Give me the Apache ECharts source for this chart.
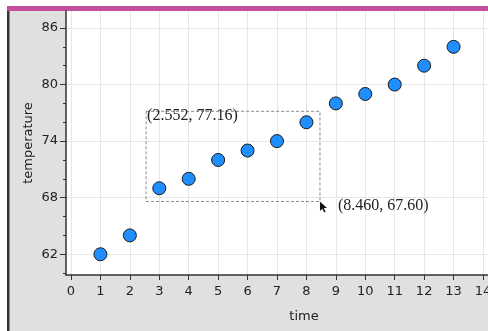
<!DOCTYPE html>
<html>
<head>
<meta charset="utf-8">
<title>temperature vs time</title>
<script src="https://cdn.jsdelivr.net/npm/echarts@6/dist/echarts.min.js"></script>
<style>
  html, body {margin:0;padding:0;background:#fff;}
  #chart {width:488px;height:331px;}
</style>
</head>
<body>
<div id="chart"></div>
<script>
// data
var times = [1, 2, 3, 4, 5, 6, 7, 8, 9, 10, 11, 12, 13];
var temps = [62, 64, 69, 70, 72, 73, 74, 76, 78, 79, 80, 82, 84];
var xTicks = [0, 1, 2, 3, 4, 5, 6, 7, 8, 9, 10, 11, 12, 13, 14];
var yMajor = [62, 68, 74, 80, 86];
var yMinor = [60, 64, 66, 70, 72, 76, 78, 82, 84];
var boxStart = [2.552, 77.16];
var boxEnd = [8.460, 67.60];

var chart = echarts.init(document.getElementById('chart'), null, {renderer: 'canvas'});

var points = times.map(function (t, i) { return [t, temps[i]]; });
function fmt(p) { return '(' + p[0].toFixed(3) + ', ' + p[1].toFixed(2) + ')'; }

var option = {
  animation: false,
  backgroundColor: '#fff',
  graphic: [
    {type: 'rect', z: -10, shape: {x: 8, y: 6, width: 480, height: 325}, style: {fill: '#e0e0e0'}},
    {type: 'rect', z: -9, shape: {x: 7, y: 6, width: 481, height: 5}, style: {fill: '#c14f9b'}},
    {type: 'rect', z: -9, shape: {x: 7, y: 11, width: 2.5, height: 320}, style: {fill: '#333'}}
  ],
  grid: {left: 66, top: 11, right: 0, bottom: 56, show: true, backgroundColor: '#fff', borderWidth: 0,
    outerBoundsMode: 'none', containLabel: false},
  xAxis: {
    type: 'value', min: -0.17, max: 14.17,
    name: 'time', nameLocation: 'middle', nameGap: 35, nameMoveOverlap: false,
    nameTextStyle: {fontFamily: 'DejaVu Sans', fontSize: 13, color: '#222', padding: [0, 0, 0, 54]},
    axisLine: {show: true, onZero: false, lineStyle: {color: '#333', width: 1.5}},
    axisTick: {show: true, length: 5, customValues: xTicks, lineStyle: {color: '#333'}},
    axisLabel: {customValues: xTicks, margin: 10, fontFamily: 'DejaVu Sans', fontSize: 13, color: '#222'},
    splitLine: {show: true, lineStyle: {color: '#e6e6e6', width: 1}}
  },
  yAxis: [{
    type: 'value', min: 59.8, max: 87.8,
    name: 'temperature', nameLocation: 'middle', nameGap: 31, nameRotate: 90, nameMoveOverlap: false,
    nameTextStyle: {fontFamily: 'DejaVu Sans', fontSize: 13, color: '#222'},
    axisLine: {show: true, onZero: false, lineStyle: {color: '#333', width: 1.5}},
    axisTick: {show: true, length: 6, customValues: yMajor, lineStyle: {color: '#333'}},
    axisLabel: {customValues: yMajor, margin: 8, fontFamily: 'DejaVu Sans', fontSize: 13, color: '#222'},
    splitLine: {show: true, lineStyle: {color: '#e6e6e6', width: 1}}
  }, {
    type: 'value', min: 59.8, max: 87.8, position: 'left', offset: 0,
    axisLine: {show: false, onZero: false},
    axisTick: {show: true, inside: false, length: 3, customValues: yMinor, lineStyle: {color: '#333'}},
    axisLabel: {show: false},
    splitLine: {show: false}
  }],
  series: [{
    type: 'scatter',
    data: points,
    symbolSize: 13,
    itemStyle: {color: '#1f8fff', borderColor: '#1a1a1a', borderWidth: 1, opacity: 1},
    z: 5,
    markArea: {
      silent: true,
      itemStyle: {color: 'rgba(0,0,0,0)', borderColor: '#8a8a8a', borderWidth: 1, borderType: [3, 2]},
      data: [[{coord: boxStart}, {coord: boxEnd}]]
    },
    markPoint: {
      silent: true,
      data: [
        {coord: boxStart, symbol: 'circle', symbolSize: 0,
          label: {show: true, position: 'right', offset: [-4, 4], formatter: fmt(boxStart),
            fontFamily: 'Liberation Serif', fontSize: 16, color: '#222'}},
        {coord: boxEnd, symbol: 'path://M0,0 L0,14 L3.5,10.5 L6,16 L8,15 L5.5,9.5 L10,9.5 Z',
          symbolSize: [7, 11], symbolOffset: [3.5, 5.5], itemStyle: {color: '#111'},
          label: {show: true, position: 'right', offset: [6, -1], formatter: fmt(boxEnd),
            fontFamily: 'Liberation Serif', fontSize: 16, color: '#222'}}
      ]
    }
  }]
};
chart.setOption(option);
</script>
</body>
</html>
